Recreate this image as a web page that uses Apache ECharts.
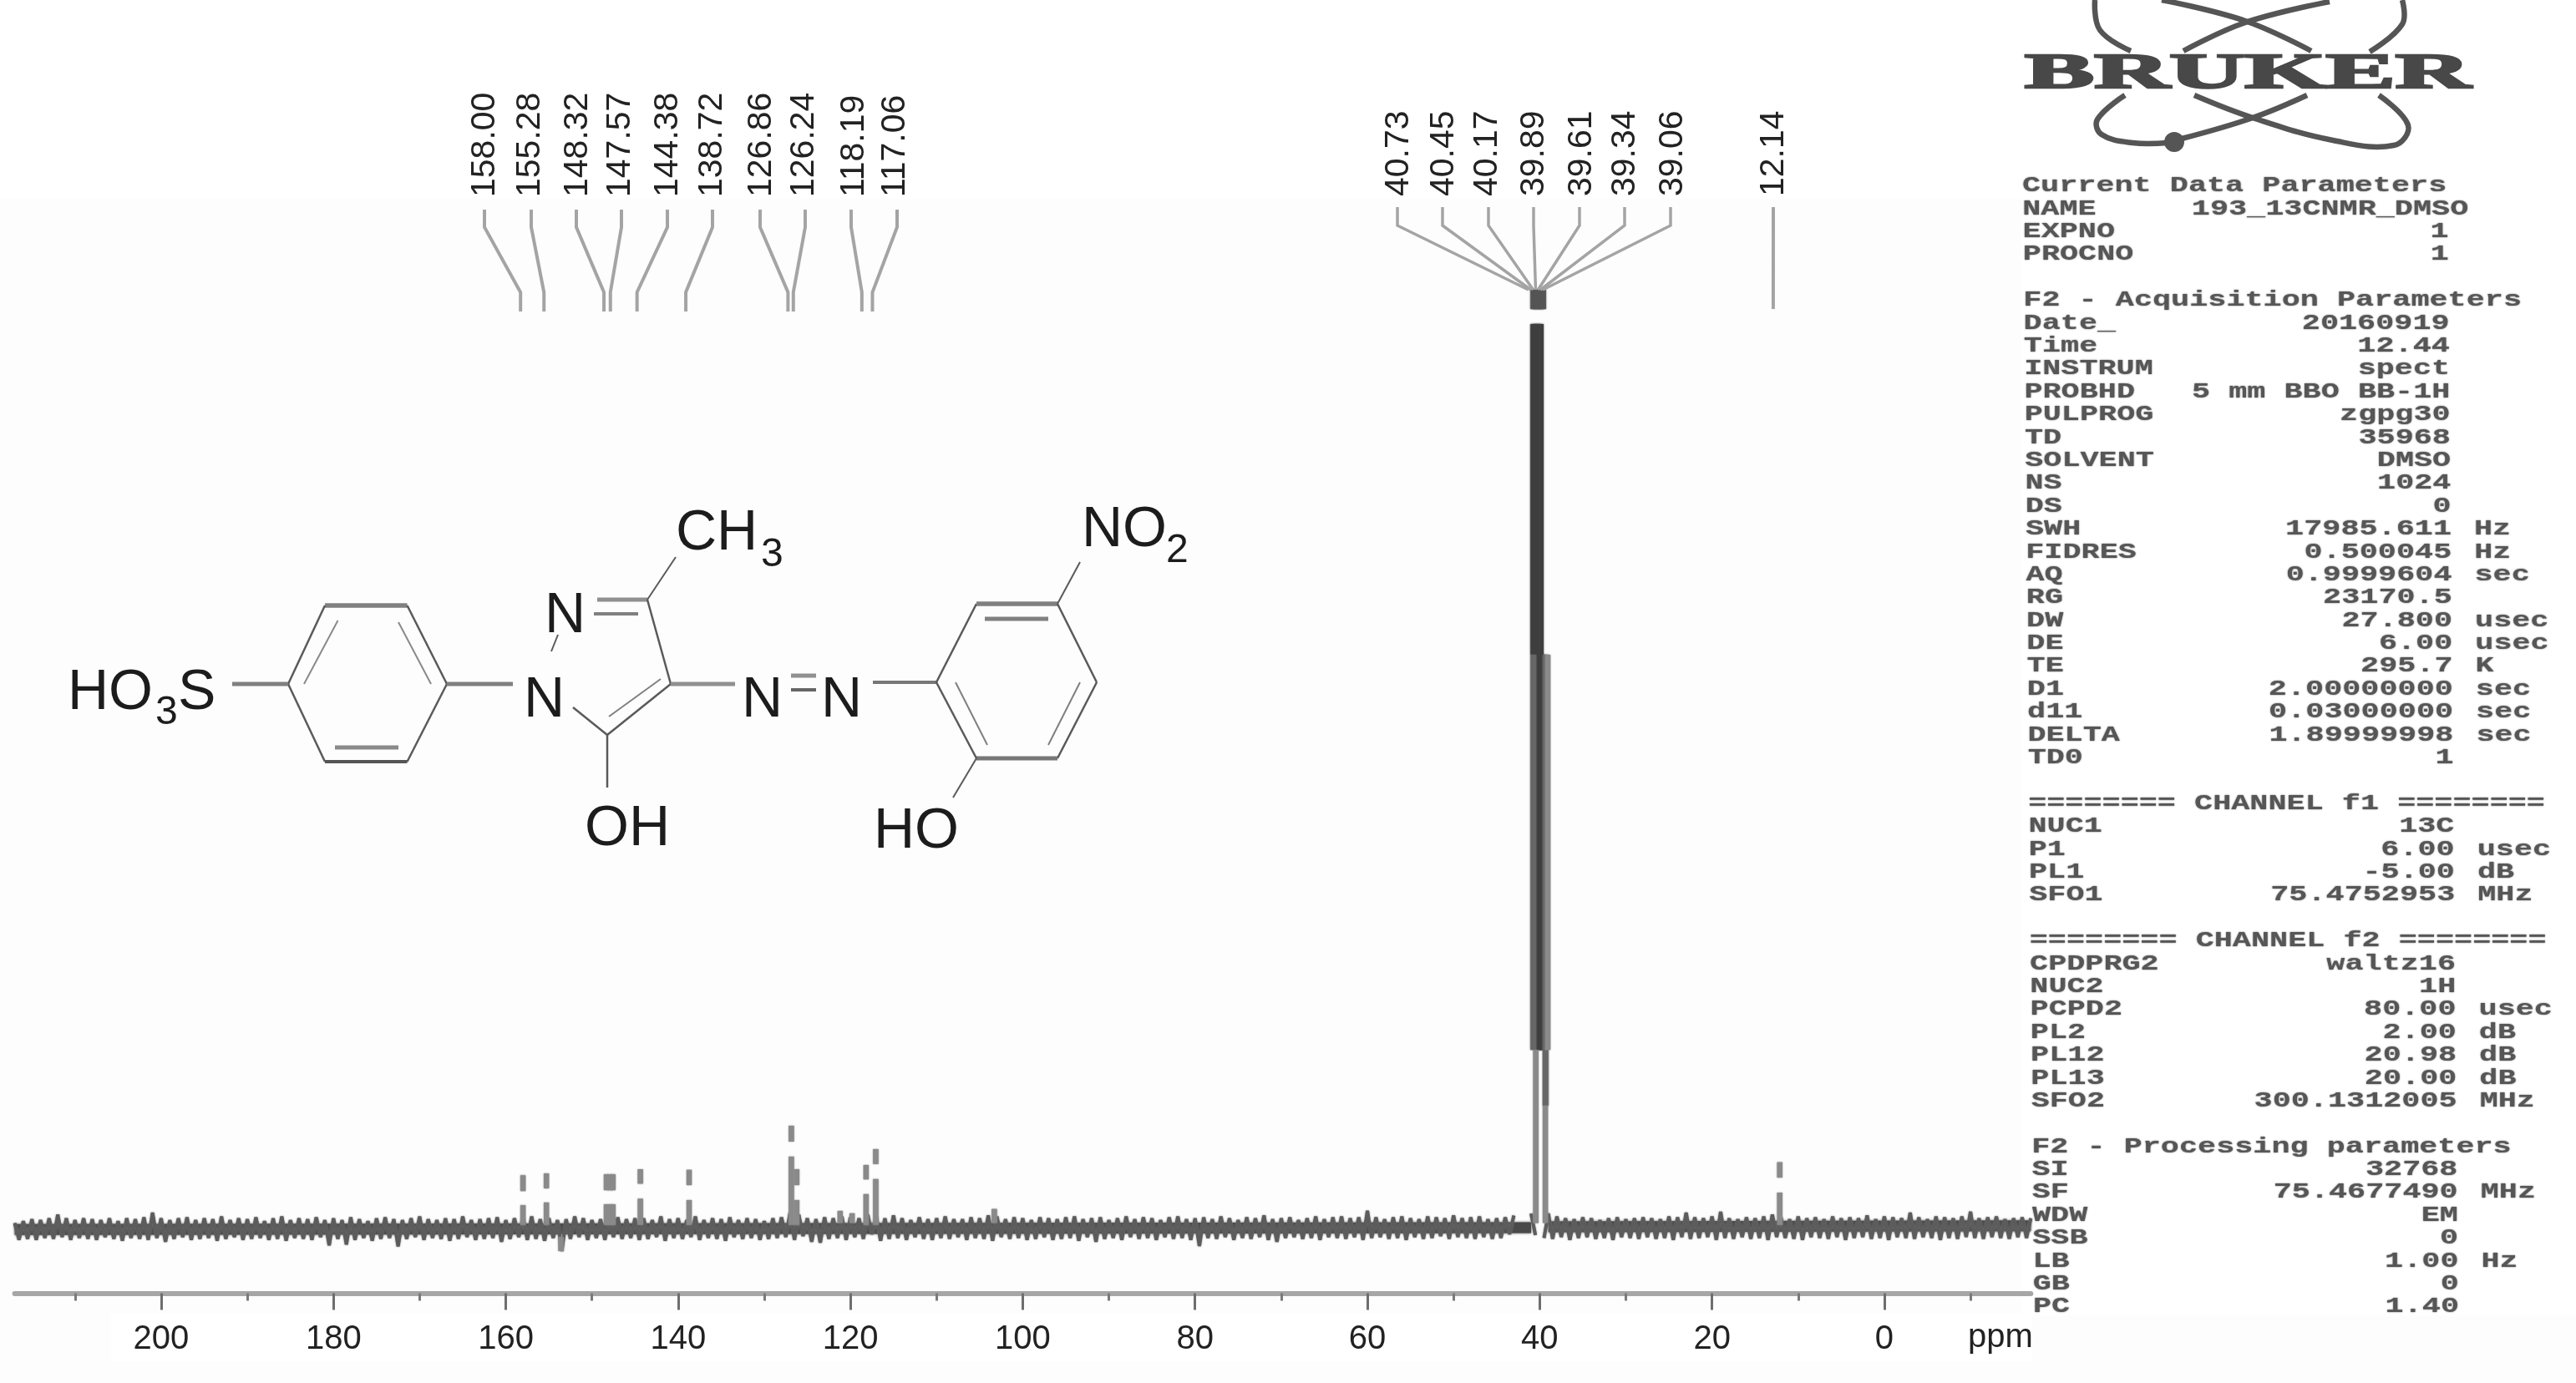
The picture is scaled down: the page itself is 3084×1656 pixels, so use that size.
<!DOCTYPE html>
<html>
<head>
<meta charset="utf-8">
<style>html,body{margin:0;padding:0;background:#fdfdfd}#c{width:3084px;height:1656px}</style>
<script src="https://cdn.jsdelivr.net/npm/echarts@6/dist/echarts.min.js"></script>
</head>
<body>
<div id="c"></div>
<script>
// ---------- axis ----------
const majorTicks = [200,180,160,140,120,100,80,60,40,20,0];
const minorTicks = [210,190,170,150,130,110,90,70,50,30,10,-10];
const axisMin = -17, axisMax = 217;

// ---------- picked peaks (labels, ppm) ----------
const aromaticPpm = [158.00,155.28,148.32,147.57,144.38,138.72,126.86,126.24,118.19,117.06];
const solventPpm  = [40.73,40.45,40.17,39.89,39.61,39.34,39.06];
const methylPpm   = [12.14];

// ---------- peak intensities ----------
const stemPpm   = [158.00,155.28,148.32,147.9,147.57,144.38,138.72,126.86,126.24,118.19,117.06,12.14];
const stemTop   = [5.6,5.8,5.7,5.7,5.7,6.25,6.2,10.9,6.25,6.7,8.4,7.0];
const stemGapHi = [3.9,4.2,4.0,4.0,4.0,4.7,4.55,9.2,4.55,5.15,6.8,5.35];
const stemGapLo = [2.4,2.7,2.5,2.5,2.5,3.1,2.95,7.6,2.95,3.6,5.2,3.75];
const smallPpm  = [121.2,119.8,103.3,153.6];
const smallTop  = [1.8,1.55,2.0,-2.5];

// solvent multiplet: ppm, lower and upper intensity of each drawn run, tone
const dmsoPpm  = [40.73,40.45,40.17,39.89,39.61,40.73,40.45,40.17,39.89,39.61,40.73,39.34,39.06,40.45,39.34];
const dmsoLow  = [98.2,98.2,98.2,98.2,98.2,61.25,19,19,19,19,19,13,19,0.5,0.5];
const dmsoHigh = [100.3,100.3,100.3,100.3,100.3,96.6,96.6,96.6,96.6,61.25,61.25,61.25,61.25,19,13];
const dmsoTone = [1,1,1,1,1,0,0,0,0,0,2,2,3,3,3];

// ---------- baseline noise, upper excursions at whole ppm from 217 down to -17 ----------
const noiseHigh = [
0.5,0.7,0.9,0.8,1.0,1.4,1.0,0.8,1.0,0.9,
0.8,1.0,0.7,1.0,0.9,1.1,1.6,1.0,0.8,1.0,
1.1,0.8,1.0,0.9,1.2,0.8,1.0,0.9,1.1,0.7,
1.0,1.2,0.8,1.0,0.9,1.1,0.8,1.0,0.8,1.1,
0.9,0.7,1.0,1.1,0.9,0.8,1.0,1.2,0.9,0.8,
1.0,0.9,1.2,0.8,0.9,1.0,1.1,0.8,1.0,1.1,
1.2,0.9,1.0,0.8,0.9,1.2,1.0,0.8,0.9,1.0,
1.1,0.9,1.0,1.0,0.8,1.2,0.9,1.0,0.8,1.2,
0.8,1.0,0.9,1.1,0.8,1.0,0.9,0.7,1.0,1.1,
1.6,1.4,1.0,0.9,1.1,1.0,1.2,1.1,1.0,1.4,
1.2,1.0,1.3,1.0,0.8,1.1,0.9,1.0,1.2,0.9,
0.9,1.1,1.0,1.3,1.2,0.9,1.1,1.0,0.8,1.1,
1.0,0.9,1.1,1.2,0.9,1.0,1.1,0.8,1.0,1.2,
0.9,1.1,1.0,0.8,1.1,1.2,0.9,1.0,1.1,0.9,
1.2,1.0,0.8,1.1,1.0,1.3,0.9,1.0,1.1,0.8,
1.0,1.2,0.9,1.1,1.2,1.0,1.1,1.8,1.1,0.9,
1.1,1.2,1.0,0.9,1.2,1.1,1.0,1.3,1.0,1.1,
1.2,0.9,1.0,1.1,1.3,1.0,1.5,null,1.5,1.2,
1.0,0.9,1.1,1.0,0.8,1.0,1.1,0.9,1.0,1.1,
1.0,0.9,1.2,1.1,1.6,1.1,1.0,1.2,1.7,1.0,
0.9,1.1,1.0,1.2,1.4,1.1,0.9,1.2,1.0,1.1,
0.9,1.2,1.0,1.1,1.0,1.3,0.9,1.2,1.1,1.0,
1.6,1.1,0.9,1.2,1.1,1.0,1.2,1.7,1.0,1.1,
1.2,0.9,1.0,1.1,1.0
];
// lower excursions at half ppm from 216.5 down to -16.5
const noiseLow = [
-1.3,-1.2,-1.3,-1.1,-1.2,-1.0,-1.3,-1.1,-1.2,-1.3,
-1.0,-1.2,-1.4,-1.1,-1.2,-1.3,-1.1,-1.5,-1.2,-1.0,
-1.3,-1.2,-1.1,-1.4,-1.2,-1.0,-1.3,-1.2,-1.1,-1.3,
-1.2,-1.4,-1.1,-1.2,-1.3,-1.0,-1.9,-1.2,-1.8,-1.3,
-1.1,-1.4,-1.2,-1.1,-2.0,-1.2,-1.0,-1.3,-1.1,-1.2,
-1.4,-1.2,-1.0,-1.3,-1.2,-1.1,-1.5,-1.2,-1.0,-1.3,
-1.2,-1.4,-1.1,-2.5,-1.2,-1.0,-1.3,-1.1,-1.3,-1.0,
-1.2,-1.1,-1.3,-1.2,-1.0,-1.4,-1.1,-1.2,-1.0,-1.3,
-1.1,-1.2,-1.4,-1.0,-1.2,-1.1,-1.3,-1.2,-1.1,-1.0,
-1.3,-0.9,-1.5,-1.6,-1.2,-1.1,-1.3,-1.0,-1.2,-0.7,
-1.4,-1.2,-1.1,-1.3,-1.0,-1.2,-1.3,-1.1,-1.2,-1.0,
-1.3,-1.1,-1.2,-1.4,-1.0,-1.2,-1.1,-1.3,-1.2,-1.0,
-1.3,-1.2,-1.1,-1.4,-1.0,-1.5,-1.2,-1.1,-1.3,-1.0,
-1.2,-1.1,-1.3,-1.0,-1.2,-1.1,-1.3,-1.95,-1.1,-1.2,
-1.0,-1.3,-1.1,-1.2,-1.0,-1.3,-1.5,-1.1,-1.0,-1.2,
-1.1,-1.3,-1.0,-1.1,-1.2,-1.0,-1.3,-1.1,-1.0,-1.2,
-1.1,-1.3,-1.0,-1.2,-1.1,-0.9,-1.2,-1.0,-1.1,-1.2,
-1.0,-1.2,-1.1,-0.7,null,null,-0.8,-1.1,-1.2,-1.0,
-1.3,-1.1,-1.0,-1.2,-1.1,-1.3,-1.0,-1.1,-1.2,-1.0,
-1.2,-1.1,-1.3,-1.0,-1.2,-1.1,-1.0,-1.3,-1.1,-1.2,
-1.0,-1.2,-1.1,-1.3,-1.0,-1.1,-1.2,-1.3,-1.0,-1.1,
-1.2,-1.0,-1.3,-1.1,-1.0,-1.2,-1.1,-1.3,-1.0,-1.1,
-1.2,-1.0,-1.1,-1.3,-1.1,-1.2,-1.0,-1.1,-1.2,-1.0,
-1.1,-1.2,-1.0,-1.1
];
const baseLeft  = [[217,-0.2],[41,0.0]];
const baseRight = [[39,0.1],[-17,0.2]];

// ---------- acquisition parameter block ----------
const paramLabels = ["Current Data Parameters","NAME","EXPNO","PROCNO","","F2 - Acquisition Parameters","Date_","Time","INSTRUM","PROBHD","PULPROG","TD","SOLVENT","NS","DS","SWH","FIDRES","AQ","RG","DW","DE","TE","D1","d11","DELTA","TD0","","======== CHANNEL f1 ========","NUC1","P1","PL1","SFO1","","======== CHANNEL f2 ========","CPDPRG2","NUC2","PCPD2","PL2","PL12","PL13","SFO2","","F2 - Processing parameters","SI","SF","WDW","SSB","LB","GB","PC"];
const paramValues = ["","193_13CNMR_DMSO","1","1","","","20160919","12.44","spect","5 mm BBO BB-1H","zgpg30","35968","DMSO","1024","0","17985.611","0.500045","0.9999604","23170.5","27.800","6.00","295.7","2.00000000","0.03000000","1.89999998","1","","","13C","6.00","-5.00","75.4752953","","","waltz16","1H","80.00","2.00","20.98","20.00","300.1312005","","","32768","75.4677490","EM","0","1.00","0","1.40"];
const paramUnits  = ["","","","","","","","","","","","","","","","Hz","Hz","sec","","usec","usec","K","sec","sec","sec","","","","","usec","dB","MHz","","","","","usec","dB","dB","dB","MHz","","","","MHz","","","Hz","",""];

// ---------- layout (pixels, not data) ----------
const PX_GRID = {left:17.6, top:350, width:2413.7, height:1198.4};
const SANS = '"Liberation Sans", Arial, sans-serif';
const aromaticTopX   = [580,636,690,744,799,853,910,964,1019,1074];
const aromaticLabelX = [581,635,692,743,800,853,912,963,1023,1072];
const aromaticShift  = [-3,-3,-3,-3,-4,-4,-4,-4,-5,-4];
const solventTopX    = [1673,1727,1782,1836,1891,1945,2000];
const solventLabelX  = [1675,1729,1781,1837,1894,1946,2003];
const TONES = [{c:'#3f3f3f',w:7},{c:'#555',w:7},{c:'#666',w:7},{c:'#8a8a8a',w:6.5}];

const interleaved = [];
noiseHigh.forEach((v,i)=>{
  const ppm = axisMax - i;
  interleaved.push([ppm, v]);
  if (i < noiseLow.length) interleaved.push([ppm-0.5, noiseLow[i]]);
});

// stems split around the scan's blank band
const stemSegments = [];
stemPpm.forEach((p,i)=>{
  stemSegments.push([p,0.3,stemGapLo[i],3]);
  stemSegments.push([p,stemGapHi[i],stemTop[i],3]);
});
smallPpm.forEach((p,i)=>stemSegments.push([p,smallTop[i]<0?-1:0.5,smallTop[i],3]));
dmsoPpm.forEach((p,i)=>stemSegments.push([p,dmsoLow[i],dmsoHigh[i],dmsoTone[i]]));

// leader lines + rotated peak labels
const picks = [];
aromaticPpm.forEach((p,i)=>picks.push({ppm:p,topX:aromaticTopX[i],labelX:aromaticLabelX[i],shift:aromaticShift[i],ys:[251,272,350,373],labelY:236,w:4}));
solventPpm.forEach((p,i)=>picks.push({ppm:p,topX:solventTopX[i],labelX:solventLabelX[i],shift:-6,ys:[248,270,347,347],labelY:235,w:3.5}));
methylPpm.forEach(p=>picks.push({ppm:p,topX:2123,labelX:2124,shift:-7.8,ys:[248,270,350,370],labelY:235,w:4}));

// ---------- static drawing: molecule, logo, parameter text ----------
const g = [];
g.push({type:'rect',z:-2,shape:{x:2420,y:0,width:664,height:1575},style:{fill:'#ffffff'}});
g.push({type:'rect',z:-2,shape:{x:133,y:1573,width:2300,height:57},style:{fill:'#ffffff'}});
g.push({type:'rect',z:-2,shape:{x:0,y:0,width:2420,height:238},style:{fill:'#ffffff'}});

function seg(x1,y1,x2,y2,w,c){g.push({type:'line',shape:{x1,y1,x2,y2},style:{stroke:c||'#5a5a5a',lineWidth:w||2.5}});}
function txt(t,x,y,size){g.push({type:'text',x,y,style:{text:t,fontSize:size||68,fontFamily:SANS,fill:'#1c1c1c',textAlign:'left',textVerticalAlign:'bottom'}});}
// left ring
seg(389,725,487.5,725,5.5,'#808080');seg(487.5,725,535,819);seg(535,819,487.5,912);seg(487.5,912,389,912,4,'#555');seg(389,912,345,819);seg(345,819,389,725);
seg(404.5,743,364,819,2,'#8a8a8a');seg(477,745,516,819,2,'#8a8a8a');seg(401,895,477,895,5,'#8a8a8a');
seg(278,819,345,819,5,'#808080');seg(535,819,614,819,5,'#808080');
// pyrazole
seg(715,718,775,718,5,'#909090');seg(711,735,764,735,4,'#808080');seg(775,718,803,819);seg(775,718,809,667,2);
seg(668,760,660,780,2);seg(803,819,727,880);seg(791,813,729,858,2,'#808080');seg(686,847,727,880);seg(727,880,727,943);
// azo
seg(803,819,880,819,5,'#909090');seg(947,809,977,809,5,'#909090');seg(947,826,977,826,4,'#666');seg(1045,817,1121,817,4,'#777');
// right ring
seg(1121,817,1169,723);seg(1169,723,1266,723,5.5,'#808080');seg(1266,723,1313,817);seg(1313,817,1266,908);seg(1266,908,1169,908,5,'#777');seg(1169,908,1121,817);
seg(1179,741,1255,741,5,'#808080');seg(1293,817,1255,892,2,'#808080');seg(1144,817,1182,892,2,'#808080');
seg(1266,723,1293,673,2);seg(1169,908,1141,955,2);
// atom labels
txt('HO',81,864);txt('3',186,878,48);txt('S',213,864);
txt('N',627,873);txt('N',652,772);txt('CH',809,673);txt('3',911,689,48);
txt('N',888,873);txt('N',983,873);txt('NO',1295,669);txt('2',1396,684,48);
txt('OH',700,1027);txt('HO',1046,1030);

// logo
const ORBIT = {stroke:'#555',lineWidth:6.5,fill:null};
[
 [[2508,0],[2514,36],[2551,61]],
 [[2544,114],[2511,143],[2516,161],[2553,171],[2595,171]],
 [[2612,166],[2697,141],[2762,114]],
 [[2627,114],[2697,141],[2793,168],[2866,174],[2883,150],[2848,114]],
 [[2588,0],[2688,25],[2767,61]],
 [[2789,2],[2688,27],[2614,61]],
 [[2876,0],[2876,29],[2837,62]]
].forEach(pts=>g.push({type:'polyline',shape:{points:pts,smooth:0.4},style:ORBIT}));
g.push({type:'circle',shape:{cx:2603,cy:170,r:12},style:{fill:'#555'}});
g.push({type:'text',x:2424,y:89,scaleX:2.08,style:{text:'BRUKER',fontSize:60,fontWeight:'bold',fontFamily:'"Liberation Serif", serif',fill:'#484848',stroke:'#484848',lineWidth:2.5,textAlign:'left',textVerticalAlign:'middle'}});

// parameter block
const MONO = {fontSize:25,fontWeight:'bold',fontFamily:'"Liberation Mono", monospace',fill:'#565656',textVerticalAlign:'middle',textShadowColor:'#707070',textShadowBlur:2};
paramLabels.forEach((lab,i)=>{
  const y = 223 + 27.39*i, dx = (y-223)*0.0097;
  const valueShift = i === 1 ? 24 : 0;
  if (lab) g.push({type:'text',x:2421+dx,y,scaleX:1.473,style:Object.assign({},MONO,{text:lab,textAlign:'left'})});
  if (paramValues[i]) g.push({type:'text',x:2931+dx+valueShift,y,scaleX:1.473,style:Object.assign({},MONO,{text:paramValues[i],textAlign:'right'})});
  if (paramUnits[i]) g.push({type:'text',x:2958+dx,y,scaleX:1.473,style:Object.assign({},MONO,{text:paramUnits[i],textAlign:'left'})});
});
g.push({type:'text',x:2356,y:1602,style:{text:'ppm',fontSize:40,fontFamily:SANS,fill:'#222',textVerticalAlign:'middle'}});

// ---------- chart ----------
const chart = echarts.init(document.getElementById('c'),null,{renderer:'canvas'});
const scaleBase = {type:'value',inverse:true,min:axisMin,max:axisMax,position:'bottom',splitLine:{show:false}};
chart.setOption({
  animation:false,
  backgroundColor:'#fdfdfd',
  graphic:g,
  grid:PX_GRID,
  xAxis:[
    Object.assign({},scaleBase,{
      axisLine:{show:true,onZero:false,lineStyle:{color:'#a6a6a6',width:6}},
      axisTick:{show:false},
      axisLabel:{show:true,customValues:majorTicks,margin:36,fontSize:40,fontFamily:SANS,color:'#222'}
    }),
    Object.assign({},scaleBase,{
      axisLine:{show:false,onZero:false},
      axisTick:{show:true,length:20,customValues:majorTicks,lineStyle:{color:'#6e6e6e',width:3}},
      axisLabel:{show:false}
    }),
    Object.assign({},scaleBase,{
      axisLine:{show:false,onZero:false},
      axisTick:{show:true,length:9,customValues:minorTicks,lineStyle:{color:'#7a7a7a',width:3}},
      axisLabel:{show:false}
    })
  ],
  yAxis:{type:'value',show:false,min:-7,max:100,splitLine:{show:false}},
  series:[
    {type:'line',name:'baseline',data:baseLeft,symbol:'none',silent:true,z:2,lineStyle:{color:'#4a4a4a',width:13,cap:'butt',shadowColor:'#555',shadowBlur:3}},
    {type:'line',name:'baseline right',data:baseRight,symbol:'none',silent:true,z:2,lineStyle:{color:'#4a4a4a',width:13,cap:'butt',shadowColor:'#555',shadowBlur:3}},
    {type:'line',name:'noise',data:interleaved,symbol:'none',silent:true,z:3,connectNulls:false,lineStyle:{color:'#5c5c5c',width:4,shadowColor:'#777',shadowBlur:2}},
    {type:'custom',name:'stems',z:4,silent:true,clip:false,data:stemSegments,encode:{x:0,y:1},
      renderItem(params,api){
        const p=api.value(0),a=api.coord([p,api.value(1)]),b=api.coord([p,api.value(2)]),t=TONES[api.value(3)];
        return {type:'line',shape:{x1:a[0],y1:a[1],x2:b[0],y2:b[1]},style:{stroke:t.c,lineWidth:t.w,shadowColor:t.c,shadowBlur:2}};
      }},
    {type:'custom',name:'peak picks',z:5,silent:true,clip:false,data:picks.map((d,i)=>[d.ppm,i]),encode:{x:0},
      renderItem(params,api){
        const d=picks[api.value(1)], xb=api.coord([d.ppm,0])[0]+d.shift, ys=d.ys;
        return {type:'group',children:[
          {type:'polyline',shape:{points:[[d.topX,ys[0]],[d.topX,ys[1]],[xb,ys[2]],[xb,ys[3]]]},style:{stroke:'#a4a4a4',lineWidth:d.w,fill:null}},
          {type:'text',x:d.labelX,y:d.labelY,rotation:Math.PI/2,style:{text:d.ppm.toFixed(2),fontSize:41,fontFamily:SANS,fill:'#222',textAlign:'left',textVerticalAlign:'middle'}}
        ]};
      }}
  ]
});
</script>
</body>
</html>
